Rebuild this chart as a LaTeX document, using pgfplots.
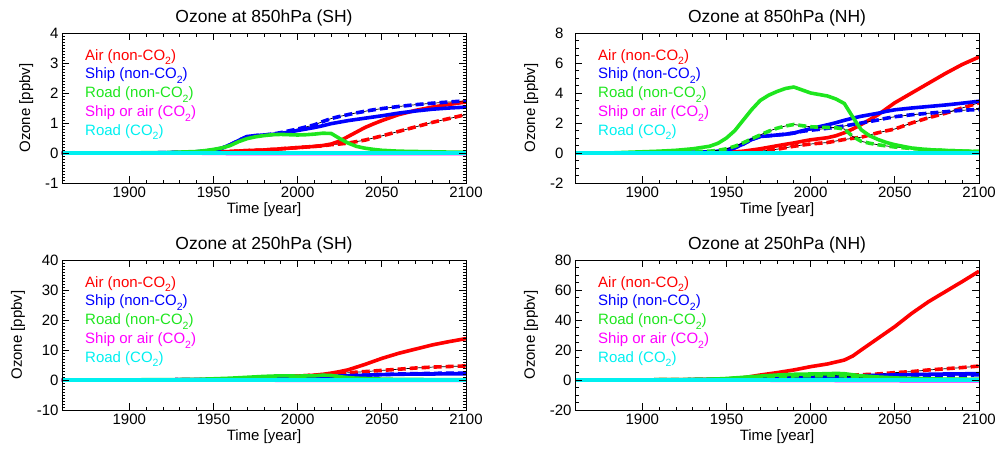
\documentclass[border=0pt]{standalone}
\usepackage{fontspec}
\setmainfont{Liberation Sans}
\usepackage{pgfplots}
\pgfplotsset{compat=1.18}
\definecolor{ozred}{RGB}{255,0,0}
\definecolor{ozblue}{RGB}{0,0,255}
\definecolor{ozgreen}{RGB}{30,230,30}
\definecolor{ozmag}{RGB}{255,0,255}
\definecolor{ozcyan}{RGB}{0,240,240}

\newcommand{\ozsubscript}[1]{\raisebox{-0.6ex}{\fontsize{10.5}{10.5}\selectfont #1}}
\tikzset{ozlegtext/.style={anchor=west,inner sep=0pt,font=\fontsize{15}{17}\selectfont}}
\newcommand{\ozlegendat}[1]{%
\node[ozlegtext,text=ozred,xshift=23pt,yshift=-24pt] at (#1.north west) {Air (non-CO\ozsubscript{2})};
\node[ozlegtext,text=ozblue,xshift=23pt,yshift=-42.75pt] at (#1.north west) {Ship (non-CO\ozsubscript{2})};
\node[ozlegtext,text=ozgreen,xshift=23pt,yshift=-61.5pt] at (#1.north west) {Road (non-CO\ozsubscript{2})};
\node[ozlegtext,text=ozmag,xshift=23pt,yshift=-80.25pt] at (#1.north west) {Ship or air (CO\ozsubscript{2})};
\node[ozlegtext,text=ozcyan,xshift=23pt,yshift=-99pt] at (#1.north west) {Road (CO\ozsubscript{2})};
}
% black thin line under a thick coloured line
\newcommand{\ozseries}[3]{%
\addplot[black,line width=0.7pt] coordinates {#1};
\addplot[#2,line width=3.6pt,#3] coordinates {#1};
}

\pgfplotsset{oz/.style={
  scale only axis, width=404pt, height=150pt,
  xmin=1860, xmax=2100,
  xtick={1900,1950,2000,2050,2100}, minor x tick num=4,
  xtick pos=both, ytick pos=both,
  axis on top,
  tick align=inside, major tick length=7pt, minor tick length=3.5pt,
  tick style={black,line width=0.7pt},
  axis line style={line width=0.9pt},
  tick label style={font=\fontsize{15}{15}\selectfont},
  label style={font=\fontsize{15}{15}\selectfont},
  title style={font=\fontsize{17.5}{17.5}\selectfont, yshift=-3pt},
  xlabel={Time [year]}, ylabel={Ozone [ppbv]},
  xlabel style={yshift=1pt},
  ylabel style={yshift=5pt},
  every axis plot/.append style={line join=round},
  /pgf/number format/assume math mode=true,
  /pgf/number format/1000 sep={},
}}
\tikzset{ozdash/.style={dash pattern=on 8pt off 4pt}}

\begin{document}
\begin{tikzpicture}
\path[use as bounding box] (0,0) rectangle (996pt,448pt);

% ---------------- 850 hPa SH
\begin{axis}[oz, name=p1, at={(62pt,265pt)}, anchor=south west,
  title={Ozone at 850hPa (SH)}, ymin=-1, ymax=4, minor y tick num=9]
\ozseries{(1860,0)(1930,0)(1940,0.01)(1950,0.02)(1960,0.05)(1970,0.08)(1980,0.1)(1990,0.14)(2000,0.18)(2010,0.22)(2015,0.24)(2020,0.28)(2025,0.3)(2030,0.33)(2035,0.38)(2040,0.43)(2045,0.5)(2050,0.57)(2060,0.72)(2070,0.87)(2080,1.02)(2090,1.15)(2100,1.28)}{ozred}{ozdash}
\ozseries{(1860,0)(1930,0)(1940,0.01)(1950,0.02)(1960,0.05)(1970,0.08)(1980,0.1)(1990,0.14)(2000,0.18)(2010,0.22)(2015,0.25)(2020,0.3)(2025,0.4)(2030,0.55)(2035,0.7)(2040,0.85)(2045,0.97)(2050,1.08)(2060,1.28)(2070,1.42)(2080,1.53)(2090,1.62)(2100,1.7)}{ozred}{}
\ozseries{(1860,0)(1910,0)(1920,0.01)(1930,0.02)(1940,0.04)(1945,0.06)(1950,0.1)(1955,0.16)(1960,0.28)(1965,0.42)(1970,0.55)(1975,0.58)(1980,0.6)(1985,0.63)(1990,0.68)(1995,0.74)(2000,0.8)(2005,0.87)(2010,0.94)(2015,1.05)(2020,1.15)(2025,1.22)(2030,1.28)(2035,1.34)(2040,1.39)(2045,1.44)(2050,1.48)(2060,1.55)(2070,1.61)(2080,1.66)(2090,1.7)(2100,1.74)}{ozblue}{ozdash}
\ozseries{(1860,0)(1910,0)(1920,0.01)(1930,0.02)(1940,0.04)(1945,0.06)(1950,0.1)(1955,0.16)(1960,0.28)(1965,0.42)(1970,0.55)(1975,0.58)(1980,0.6)(1985,0.62)(1990,0.65)(1995,0.7)(2000,0.75)(2005,0.8)(2010,0.85)(2015,0.91)(2020,0.98)(2025,1.03)(2030,1.08)(2035,1.12)(2040,1.16)(2045,1.2)(2050,1.24)(2060,1.33)(2070,1.4)(2080,1.46)(2090,1.5)(2100,1.53)}{ozblue}{}
\ozseries{(1860,0)(1900,0)(1910,0.01)(1920,0.01)(1930,0.03)(1940,0.05)(1945,0.08)(1950,0.12)(1955,0.17)(1960,0.25)(1965,0.38)(1970,0.48)(1975,0.54)(1980,0.58)(1985,0.61)(1990,0.62)(1995,0.61)(2000,0.6)(2005,0.61)(2010,0.63)(2015,0.66)(2020,0.65)(2025,0.48)(2030,0.33)(2035,0.22)(2040,0.16)(2045,0.12)(2050,0.09)(2060,0.06)(2070,0.05)(2080,0.04)(2090,0.03)(2100,0.03)}{ozgreen}{}
\ozseries{(1860,0)(1940,0)(1945,-0.01)(1970,-0.02)(2100,-0.02)}{ozmag}{}
\addplot[ozcyan,line width=4pt] coordinates {(1860,0)(2100,0)};
\end{axis}
\ozlegendat{p1}

% ---------------- 850 hPa NH
\begin{axis}[oz, name=p2, at={(575pt,265pt)}, anchor=south west,
  title={Ozone at 850hPa (NH)}, ymin=-2, ymax=8, ytick distance=2, minor y tick num=3,
  yticklabel style={xshift=-8pt}]
\ozseries{(1860,0)(1930,0)(1940,0.01)(1945,0.01)(1950,0.02)(1955,0.03)(1960,0.05)(1965,0.08)(1970,0.12)(1975,0.18)(1980,0.25)(1985,0.35)(1990,0.45)(1995,0.53)(2000,0.6)(2005,0.65)(2010,0.7)(2015,0.8)(2020,0.9)(2025,0.98)(2030,1.05)(2035,1.2)(2040,1.35)(2045,1.48)(2050,1.6)(2060,2.0)(2070,2.35)(2080,2.65)(2090,3.0)(2100,3.35)}{ozred}{ozdash}
\ozseries{(1860,0)(1920,0)(1930,0.01)(1940,0.02)(1945,0.03)(1950,0.05)(1955,0.08)(1960,0.12)(1965,0.2)(1970,0.28)(1975,0.38)(1980,0.48)(1985,0.58)(1990,0.67)(1995,0.78)(2000,0.88)(2005,0.95)(2010,1.02)(2015,1.15)(2020,1.35)(2025,1.6)(2030,1.9)(2035,2.22)(2040,2.55)(2045,2.95)(2050,3.35)(2060,4.0)(2070,4.65)(2080,5.3)(2090,5.9)(2100,6.4)}{ozred}{}
\ozseries{(1860,0)(1880,0)(1900,0.01)(1910,0.02)(1920,0.03)(1930,0.05)(1940,0.08)(1945,0.12)(1950,0.2)(1955,0.35)(1960,0.6)(1965,0.9)(1970,1.1)(1975,1.15)(1980,1.2)(1985,1.25)(1990,1.33)(1995,1.45)(2000,1.52)(2005,1.58)(2010,1.65)(2015,1.72)(2020,1.8)(2025,1.9)(2030,2.0)(2035,2.1)(2040,2.2)(2045,2.32)(2050,2.42)(2060,2.55)(2070,2.65)(2080,2.75)(2090,2.85)(2100,2.9)}{ozblue}{ozdash}
\ozseries{(1860,0)(1880,0)(1900,0.01)(1910,0.02)(1920,0.03)(1930,0.05)(1940,0.08)(1945,0.12)(1950,0.2)(1955,0.35)(1960,0.6)(1965,0.9)(1970,1.1)(1975,1.15)(1980,1.2)(1985,1.25)(1990,1.33)(1995,1.48)(2000,1.62)(2005,1.75)(2010,1.88)(2015,2.02)(2020,2.18)(2025,2.32)(2030,2.45)(2035,2.55)(2040,2.65)(2045,2.78)(2050,2.88)(2060,3.0)(2070,3.1)(2080,3.2)(2090,3.32)(2100,3.45)}{ozblue}{}
\ozseries{(1860,0)(1880,0)(1900,0.02)(1910,0.03)(1920,0.05)(1930,0.08)(1940,0.12)(1945,0.18)(1950,0.28)(1955,0.45)(1960,0.68)(1965,0.95)(1970,1.2)(1975,1.45)(1980,1.65)(1985,1.8)(1990,1.9)(1995,1.82)(2000,1.75)(2005,1.72)(2010,1.7)(2015,1.68)(2020,1.6)(2025,1.1)(2030,0.78)(2035,0.65)(2040,0.55)(2045,0.47)(2050,0.4)(2060,0.3)(2070,0.22)(2080,0.17)(2090,0.13)(2100,0.1)}{ozgreen}{ozdash}
\ozseries{(1860,0)(1880,0)(1900,0.08)(1910,0.12)(1920,0.18)(1930,0.28)(1940,0.45)(1945,0.65)(1950,1.0)(1955,1.5)(1960,2.2)(1965,2.9)(1970,3.5)(1975,3.85)(1980,4.1)(1985,4.3)(1990,4.4)(1995,4.2)(2000,4.0)(2005,3.9)(2010,3.8)(2015,3.6)(2020,3.3)(2025,2.4)(2030,1.55)(2035,1.15)(2040,0.9)(2045,0.7)(2050,0.55)(2060,0.33)(2070,0.22)(2080,0.17)(2090,0.13)(2100,0.1)}{ozgreen}{}
\ozseries{(1860,0)(2100,0)}{ozmag}{}
\addplot[ozcyan,line width=4pt] coordinates {(1860,0)(2100,0)};
\end{axis}
\ozlegendat{p2}

% ---------------- 250 hPa SH
\begin{axis}[oz, name=p3, at={(62pt,38pt)}, anchor=south west,
  title={Ozone at 250hPa (SH)}, ymin=-10, ymax=40, ytick distance=10, minor y tick num=9]
\ozseries{(1860,0)(1900,0)(1920,0.05)(1940,0.1)(1950,0.2)(1960,0.3)(1970,0.5)(1980,0.7)(1990,1.0)(2000,1.3)(2010,1.6)(2015,1.8)(2020,2.0)(2025,2.2)(2030,2.4)(2035,2.6)(2040,2.8)(2045,3.0)(2050,3.2)(2060,3.6)(2070,4.0)(2080,4.3)(2090,4.5)(2100,4.7)}{ozred}{ozdash}
\ozseries{(1860,0)(1900,0)(1920,0.05)(1940,0.1)(1950,0.2)(1960,0.3)(1970,0.5)(1980,0.7)(1990,1.0)(2000,1.3)(2010,1.6)(2015,1.9)(2020,2.3)(2025,2.8)(2030,3.4)(2035,4.3)(2040,5.2)(2045,6.2)(2050,7.2)(2060,8.9)(2070,10.3)(2080,11.7)(2090,12.8)(2100,13.8)}{ozred}{}
\ozseries{(1860,0)(1900,0)(1920,0.05)(1940,0.1)(1950,0.2)(1960,0.3)(1970,0.4)(1980,0.5)(1990,0.6)(2000,0.8)(2010,1.0)(2015,1.1)(2020,1.2)(2025,1.3)(2030,1.4)(2035,1.5)(2040,1.6)(2045,1.7)(2050,1.8)(2060,2.0)(2070,2.1)(2080,2.2)(2090,2.3)(2100,2.3)}{ozblue}{ozdash}
\ozseries{(1860,0)(1900,0)(1920,0.05)(1940,0.1)(1950,0.2)(1960,0.3)(1970,0.4)(1980,0.5)(1990,0.6)(2000,0.8)(2010,1.0)(2015,1.1)(2020,1.2)(2025,1.3)(2030,1.4)(2035,1.5)(2040,1.6)(2045,1.7)(2050,1.8)(2060,1.9)(2070,2.0)(2080,2.0)(2090,2.1)(2100,2.1)}{ozblue}{}
\ozseries{(1860,0)(1900,0.05)(1920,0.1)(1940,0.2)(1950,0.4)(1960,0.6)(1970,0.9)(1980,1.2)(1990,1.4)(2000,1.3)(2010,1.4)(2015,1.6)(2020,1.5)(2025,1.1)(2030,0.8)(2035,0.6)(2040,0.5)(2045,0.4)(2050,0.3)(2060,0.2)(2070,0.2)(2080,0.1)(2090,0.1)(2100,0.1)}{ozgreen}{}
\ozseries{(1860,0)(1980,0)(1990,-0.1)(2100,-0.1)}{ozmag}{}
\addplot[ozcyan,line width=4pt] coordinates {(1860,0)(2100,0)};
\end{axis}
\ozlegendat{p3}

% ---------------- 250 hPa NH
\begin{axis}[oz, name=p4, at={(575pt,38pt)}, anchor=south west,
  title={Ozone at 250hPa (NH)}, ymin=-20, ymax=80, ytick distance=20, minor y tick num=3]
\ozseries{(1860,0)(1900,0.1)(1920,0.2)(1940,0.3)(1950,0.5)(1960,0.8)(1970,1.2)(1980,1.6)(1990,2.0)(2000,2.5)(2010,2.9)(2015,3.1)(2020,3.3)(2025,3.4)(2030,3.5)(2040,4.0)(2050,4.9)(2060,5.6)(2070,6.7)(2080,7.5)(2090,8.3)(2100,9.3)}{ozred}{ozdash}
\ozseries{(1860,0)(1900,0.1)(1920,0.2)(1940,0.4)(1950,0.7)(1960,1.5)(1970,3.3)(1980,4.9)(1990,6.7)(2000,8.9)(2010,10.7)(2015,12.0)(2020,13.3)(2025,16)(2030,20)(2040,27.8)(2050,35.6)(2060,44.4)(2070,52.2)(2080,58.9)(2090,65.6)(2100,72.5)}{ozred}{}
\ozseries{(1860,0)(1900,0)(1920,0.1)(1940,0.2)(1950,0.3)(1960,0.5)(1970,0.8)(1980,1.1)(1990,1.4)(2000,1.8)(2010,2.1)(2015,2.2)(2020,2.3)(2025,2.4)(2030,2.5)(2040,2.7)(2050,2.9)(2060,3.0)(2070,3.1)(2080,3.2)(2090,3.3)(2100,3.4)}{ozblue}{ozdash}
\ozseries{(1860,0)(1900,0)(1920,0.1)(1940,0.2)(1950,0.3)(1960,0.5)(1970,0.8)(1980,1.1)(1990,1.4)(2000,1.8)(2010,2.1)(2015,2.3)(2020,2.5)(2025,2.6)(2030,2.8)(2040,3.1)(2050,3.4)(2060,3.6)(2070,3.8)(2080,4.0)(2090,4.1)(2100,4.3)}{ozblue}{}
\ozseries{(1860,0)(1900,0.1)(1920,0.2)(1940,0.4)(1950,0.8)(1960,1.4)(1970,2.0)(1980,2.4)(1990,2.7)(2000,2.8)(2010,2.9)(2015,2.9)(2020,2.7)(2025,2.2)(2030,1.8)(2040,1.4)(2050,1.1)(2060,0.9)(2070,0.7)(2080,0.6)(2090,0.5)(2100,0.4)}{ozgreen}{ozdash}
\ozseries{(1860,0)(1900,0.1)(1920,0.2)(1940,0.5)(1950,1.0)(1960,1.8)(1970,2.6)(1980,3.3)(1990,3.8)(2000,4.0)(2010,4.2)(2015,4.4)(2020,4.2)(2025,3.5)(2030,2.8)(2040,2.0)(2050,1.4)(2060,1.0)(2070,0.8)(2080,0.6)(2090,0.5)(2100,0.4)}{ozgreen}{}
\ozseries{(1860,0)(1960,0)(1970,-0.1)(1990,-0.2)(2015,-0.3)(2040,-0.4)(2060,-0.5)(2100,-0.5)}{ozmag}{}
\addplot[ozcyan,line width=4pt] coordinates {(1860,0)(2100,0)};
\end{axis}
\ozlegendat{p4}
\end{tikzpicture}
\end{document}
